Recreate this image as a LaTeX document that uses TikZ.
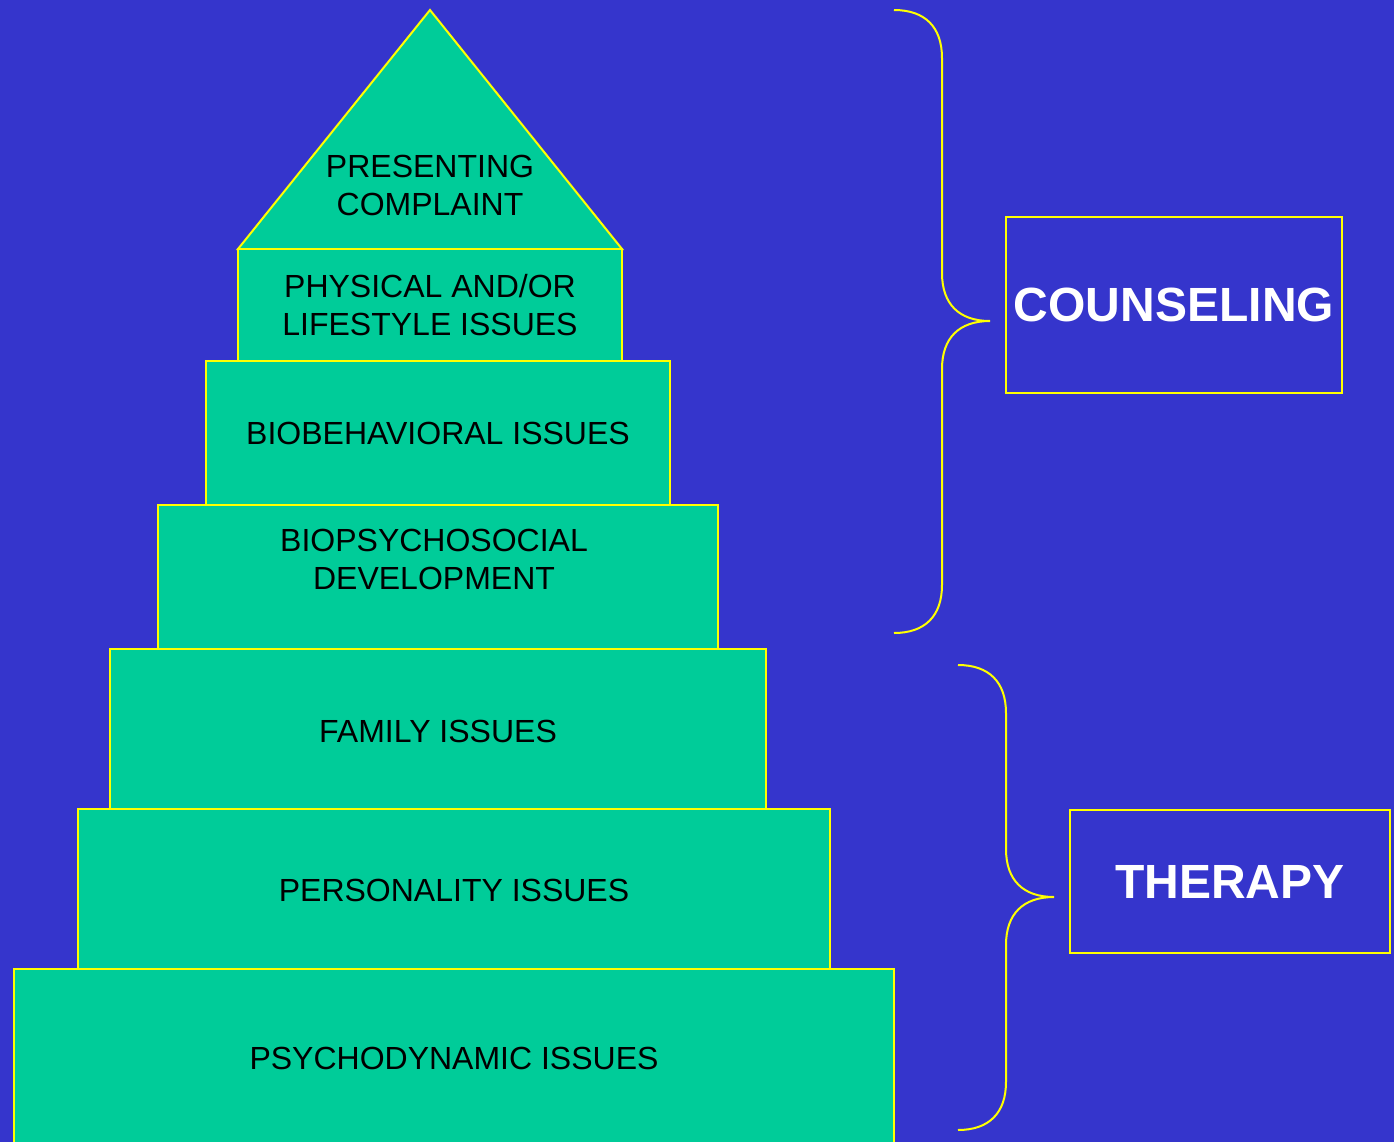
\documentclass[tikz,border=0pt]{standalone}
\usepackage{fontspec}
\setmainfont{Liberation Sans}
\usepackage{tikz}
\usetikzlibrary{positioning,calc}

\definecolor{slideblue}{RGB}{53,53,204}
\definecolor{tiergreen}{RGB}{0,204,153}
\definecolor{edgeyellow}{RGB}{255,255,0}

\tikzset{
	tier/.style={rectangle, draw=edgeyellow, fill=tiergreen, line width=1pt, inner sep=0pt},
	lbl/.style={align=center, text=black, font=\fontsize{16}{19}\selectfont},
	tag/.style={rectangle, draw=edgeyellow, line width=1pt, inner sep=0pt, text=white, font=\fontsize{24}{28}\selectfont\bfseries},
	brace/.style={draw=edgeyellow, line width=1pt}
}

\begin{document}
\begin{tikzpicture}[x=0.5pt, y=-0.5pt]
		\fill[slideblue] (0,0) rectangle (1394,1142);
		\useasboundingbox (0,0) rectangle (1394,1142);
		\clip (0,0) rectangle (1394,1142);

		% roof of the pyramid
		\filldraw[draw=edgeyellow, fill=tiergreen, line width=1pt] (430,10) -- (622,249) -- (238,249) -- cycle;
		\node[lbl] (roof) at (430,185) {PRESENTING\\COMPLAINT};

		% tiers, top to bottom
		\node[tier, minimum width=192pt, minimum height=56pt] (phys) at (430,305) {};
		\node[lbl] at (phys) {PHYSICAL AND/OR\\LIFESTYLE ISSUES};
		\node[tier, minimum width=232pt, minimum height=72pt] (biobeh) at (438,433) {};
		\node[lbl] at (biobeh) {BIOBEHAVIORAL ISSUES};
		\node[tier, minimum width=280pt, minimum height=72pt] (dev) at (438,577) {};
		\node[lbl] at (434,559) {BIOPSYCHOSOCIAL\\DEVELOPMENT};
		\node[tier, minimum width=328pt, minimum height=80pt] (family) at (438,729) {};
		\node[lbl] at (438,731) {FAMILY ISSUES};
		\node[tier, minimum width=376pt, minimum height=80pt] (person) at (454,889) {};
		\node[lbl] at (454,890) {PERSONALITY ISSUES};
		\node[tier, minimum width=440pt, minimum height=110pt] (dyn) at (454,1079) {};
		\node[lbl] at (454,1058) {PSYCHODYNAMIC ISSUES};

		% braces
		\draw[brace] (894,10) .. controls (925,10) and (942,27) .. (942,58) -- (942,273)
			.. controls (942,304) and (959,321) .. (990,321)
			.. controls (959,321) and (942,338) .. (942,369) -- (942,585)
			.. controls (942,616) and (925,633) .. (894,633);
		\draw[brace] (958,665) .. controls (989,665) and (1006,682) .. (1006,713) -- (1006,849)
			.. controls (1006,880) and (1023,897) .. (1054,897)
			.. controls (1023,897) and (1006,914) .. (1006,945) -- (1006,1082)
			.. controls (1006,1113) and (989,1130) .. (958,1130);

		% right hand labels
		\node[tag, minimum width=168pt, minimum height=88pt] (couns) at (1174,305) {COUNSELING};
		\node[tag, minimum width=160pt, minimum height=71.5pt] (ther) at (1230,881.5) {THERAPY};
	\end{tikzpicture}
\end{document}
